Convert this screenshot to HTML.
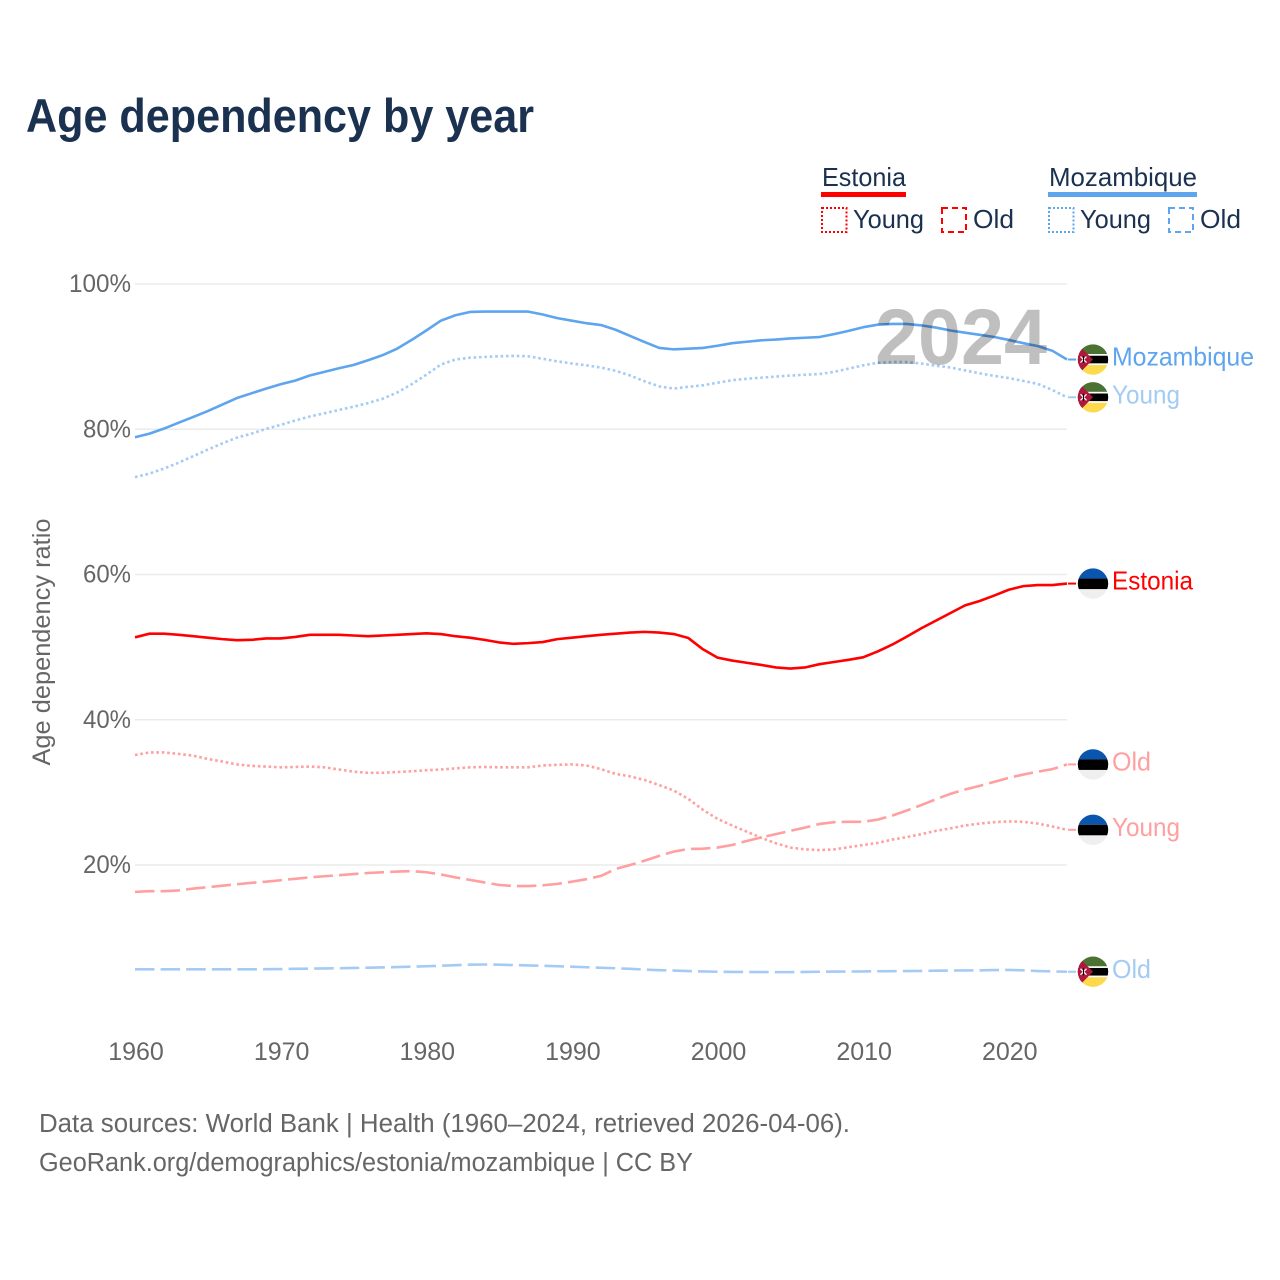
<!DOCTYPE html>
<html lang="en">
<head>
<meta charset="utf-8">
<title>Age dependency by year</title>
<style>
html,body{margin:0;padding:0;background:#fff;width:1280px;height:1280px;overflow:hidden}
svg{display:block;font-family:"Liberation Sans",sans-serif}
</style>
</head>
<body>
<svg id="chart" xmlns="http://www.w3.org/2000/svg" width="1280" height="1280" viewBox="0 0 1280 1280">
  <defs>
    <clipPath id="flag-clip"><circle cx="0" cy="0" r="15.2"/></clipPath>
    <g id="flag-ee" clip-path="url(#flag-clip)">
      <rect x="-16" y="-16" width="32" height="32" fill="#efefef"/>
      <rect x="-16" y="-16" width="32" height="11" fill="#0a55ad"/>
      <rect x="-16" y="-5" width="32" height="10.5" fill="#000"/>
    </g>
    <g id="flag-mz" clip-path="url(#flag-clip)">
      <rect x="-16" y="-16" width="32" height="32" fill="#fff"/>
      <rect x="-16" y="-16" width="32" height="10.5" fill="#4b7232"/>
      <rect x="-16" y="-3.8" width="32" height="7.6" fill="#000"/>
      <rect x="-16" y="5.5" width="32" height="10.5" fill="#fdd94e"/>
      <path d="M-16-16L0 0L-16 16Z" fill="#b0173c"/>
      <path d="M-12.5-3L-6.5 3M-6.5-3L-12.5 3" stroke="#fff" stroke-width="1.3"/>
      <path d="M-9.5-3.5V3.5" stroke="#000" stroke-width="1.1"/>
    </g>
  </defs>

  <text x="26" y="132" font-size="47" font-weight="700" fill="#1a3150" textLength="508" lengthAdjust="spacingAndGlyphs">Age dependency by year</text>

  <g>
    <text x="822" y="186" font-size="26" fill="#1a3150" textLength="84" lengthAdjust="spacingAndGlyphs">Estonia</text>
    <rect x="821" y="192" width="85" height="5" fill="#ff0000"/>
    <rect x="822" y="208" width="24.5" height="24" fill="none" stroke="#ff0000" stroke-width="2" stroke-dasharray="2 2"/>
    <text x="853" y="228" font-size="26" fill="#1a3150" textLength="71" lengthAdjust="spacingAndGlyphs">Young</text>
    <rect x="942" y="208" width="24" height="24" fill="none" stroke="#ff0000" stroke-width="2" stroke-dasharray="6 4"/>
    <text x="973" y="228" font-size="26" fill="#1a3150" textLength="41" lengthAdjust="spacingAndGlyphs">Old</text>
    <text x="1049" y="186" font-size="26" fill="#1a3150" textLength="148" lengthAdjust="spacingAndGlyphs">Mozambique</text>
    <rect x="1048" y="192" width="149" height="5" fill="#5ea5ee"/>
    <rect x="1049" y="208" width="24.5" height="24" fill="none" stroke="#5ea5ee" stroke-width="2" stroke-dasharray="2 2"/>
    <text x="1080" y="228" font-size="26" fill="#1a3150" textLength="71" lengthAdjust="spacingAndGlyphs">Young</text>
    <rect x="1169" y="208" width="24" height="24" fill="none" stroke="#5ea5ee" stroke-width="2" stroke-dasharray="6 4"/>
    <text x="1200" y="228" font-size="26" fill="#1a3150" textLength="41" lengthAdjust="spacingAndGlyphs">Old</text>
  </g>

  <g id="grid"></g>
  <g id="y-ticks"></g>
  <g id="x-ticks"></g>
  <text transform="translate(50,642) rotate(-90)" text-anchor="middle" font-size="25" fill="#666" textLength="247" lengthAdjust="spacingAndGlyphs">Age dependency ratio</text>

  <g id="series"></g>
  <text x="875" y="364" font-size="79" font-weight="700" fill="#000" fill-opacity="0.25" textLength="172" lengthAdjust="spacingAndGlyphs">2024</text>
  <g id="ends"></g>

  <text x="39" y="1132" font-size="25.5" fill="#666" textLength="811" lengthAdjust="spacingAndGlyphs">Data sources: World Bank | Health (1960–2024, retrieved 2026-04-06).</text>
  <text x="39" y="1171" font-size="25.5" fill="#666" textLength="654" lengthAdjust="spacingAndGlyphs">GeoRank.org/demographics/estonia/mozambique | CC BY</text>
</svg>
<script>
const years = [1960,1961,1962,1963,1964,1965,1966,1967,1968,1969,1970,1971,1972,1973,1974,1975,1976,1977,1978,1979,1980,1981,1982,1983,1984,1985,1986,1987,1988,1989,1990,1991,1992,1993,1994,1995,1996,1997,1998,1999,2000,2001,2002,2003,2004,2005,2006,2007,2008,2009,2010,2011,2012,2013,2014,2015,2016,2017,2018,2019,2020,2021,2022,2023,2024];
const xTickLabels = [1960,1970,1980,1990,2000,2010,2020];
const yTickValues = [20,40,60,80,100];
const mozambiqueTotal = [78.9,79.4,80.1,80.9,81.7,82.5,83.4,84.3,84.95,85.6,86.2,86.7,87.4,87.9,88.4,88.85,89.5,90.2,91.1,92.3,93.6,94.95,95.7,96.15,96.2,96.2,96.2,96.2,95.8,95.3,94.95,94.6,94.35,93.7,92.85,92.0,91.2,91.0,91.1,91.2,91.5,91.85,92.05,92.25,92.35,92.5,92.6,92.7,93.1,93.55,94.05,94.4,94.5,94.5,94.3,94.0,93.6,93.3,93.0,92.7,92.3,91.85,91.45,90.8,89.6];
const mozambiqueYoung = [73.4,73.9,74.6,75.4,76.3,77.2,78.05,78.85,79.4,80.05,80.6,81.2,81.75,82.2,82.65,83.1,83.6,84.2,85.05,86.2,87.5,88.9,89.6,89.85,89.95,90.05,90.1,90.05,89.7,89.35,89.05,88.8,88.5,88.05,87.4,86.6,85.9,85.6,85.85,86.05,86.4,86.75,86.95,87.1,87.25,87.4,87.5,87.6,87.9,88.35,88.8,89.15,89.25,89.25,89.05,88.75,88.5,88.1,87.7,87.35,87.05,86.65,86.25,85.4,84.4];
const mozambiqueOld = [5.63,5.63,5.63,5.63,5.63,5.63,5.63,5.63,5.63,5.65,5.67,5.7,5.73,5.76,5.78,5.82,5.86,5.9,5.95,6.0,6.06,6.13,6.2,6.28,6.3,6.28,6.22,6.17,6.12,6.06,6.0,5.92,5.85,5.78,5.7,5.6,5.52,5.47,5.4,5.35,5.3,5.28,5.27,5.26,5.25,5.25,5.27,5.3,5.32,5.33,5.35,5.37,5.38,5.4,5.42,5.45,5.47,5.48,5.5,5.53,5.55,5.5,5.4,5.35,5.3];
const estoniaTotal = [51.35,51.85,51.85,51.7,51.5,51.3,51.1,50.95,51.0,51.2,51.2,51.4,51.7,51.7,51.7,51.6,51.5,51.6,51.7,51.8,51.9,51.8,51.5,51.3,51.0,50.65,50.45,50.55,50.7,51.1,51.3,51.5,51.7,51.85,52.0,52.1,52.0,51.8,51.25,49.7,48.55,48.15,47.85,47.55,47.2,47.05,47.2,47.65,47.95,48.25,48.6,49.4,50.35,51.45,52.6,53.65,54.7,55.75,56.35,57.1,57.9,58.4,58.55,58.55,58.75];
const estoniaYoung = [35.15,35.5,35.5,35.3,35.05,34.6,34.25,33.85,33.65,33.55,33.45,33.5,33.55,33.45,33.15,32.85,32.7,32.7,32.8,32.9,33.05,33.15,33.3,33.45,33.5,33.45,33.45,33.45,33.7,33.8,33.85,33.7,33.2,32.55,32.2,31.7,31.0,30.25,29.1,27.6,26.35,25.45,24.6,23.75,23.0,22.4,22.15,22.05,22.15,22.45,22.75,23.05,23.5,23.85,24.25,24.7,25.05,25.45,25.7,25.9,26.0,25.95,25.7,25.3,24.85];
const estoniaOld = [16.3,16.4,16.4,16.5,16.75,16.95,17.15,17.35,17.55,17.7,17.9,18.1,18.3,18.45,18.6,18.75,18.9,19.0,19.1,19.15,19.0,18.7,18.3,17.95,17.6,17.25,17.1,17.1,17.2,17.4,17.7,18.05,18.5,19.45,20.0,20.6,21.25,21.85,22.2,22.25,22.4,22.75,23.3,23.8,24.25,24.7,25.15,25.65,25.9,25.95,25.95,26.25,26.8,27.5,28.25,29.05,29.8,30.4,30.9,31.45,32.0,32.45,32.85,33.2,33.85];

const NS = 'http://www.w3.org/2000/svg';
const xScale = yr => 135 + (yr - 1960) * (932 / 64);
const yScale = v => 284 + (100 - v) * 7.2625;

const seriesList = [
  {key:'estonia-old', label:'Old', values:estoniaOld, color:'#ff9f9f', dash:'19.5 6.1', flag:'flag-ee', width:39},
  {key:'estonia-young', label:'Young', values:estoniaYoung, color:'#ff9f9f', dash:'2.6 2.8', flag:'flag-ee', width:68},
  {key:'estonia', label:'Estonia', values:estoniaTotal, color:'#ff0000', dash:null, flag:'flag-ee', width:81},
  {key:'mozambique-old', label:'Old', values:mozambiqueOld, color:'#a3cbf4', dash:'19.5 6.1', flag:'flag-mz', width:39},
  {key:'mozambique-young', label:'Young', values:mozambiqueYoung, color:'#a3cbf4', dash:'2.6 2.8', flag:'flag-mz', width:68},
  {key:'mozambique', label:'Mozambique', values:mozambiqueTotal, color:'#5ea5ee', dash:null, flag:'flag-mz', width:142}
];

const gridG = document.getElementById('grid');
const yG = document.getElementById('y-ticks');
yTickValues.forEach(v => {
  const line = document.createElementNS(NS, 'line');
  
  
  line.setAttribute('x1', 135);
  line.setAttribute('x2', 1067);
  line.setAttribute('y1', yScale(v));
  line.setAttribute('y2', yScale(v));
  line.setAttribute('stroke', '#ebebeb');
  line.setAttribute('stroke-width', '1.4');
  gridG.appendChild(line);
  const t = document.createElementNS(NS, 'text');
  
  
  t.setAttribute('x', 131);
  t.setAttribute('y', yScale(v) + 8);
  t.setAttribute('text-anchor', 'end');
  t.setAttribute('font-size', '25');
  t.setAttribute('fill', '#666');
  t.setAttribute('textLength', String(v) === '100' ? 62 : 48);
  t.setAttribute('lengthAdjust', 'spacingAndGlyphs');
  t.textContent = v + '%';
  yG.appendChild(t);
});

const xG = document.getElementById('x-ticks');
xTickLabels.forEach(yr => {
  const t = document.createElementNS(NS, 'text');
  
  
  t.setAttribute('x', xScale(yr) + 1);
  t.setAttribute('y', 1060);
  t.setAttribute('text-anchor', 'middle');
  t.setAttribute('font-size', '25');
  t.setAttribute('fill', '#666');
  t.textContent = yr;
  xG.appendChild(t);
});

const seriesG = document.getElementById('series');
const endsG = document.getElementById('ends');
seriesList.forEach(s => {
  const d = s.values.map((v, i) => (i ? 'L' : 'M') + xScale(years[i]).toFixed(2) + ' ' + yScale(v).toFixed(2)).join('');
  const path = document.createElementNS(NS, 'path');
  
  
  path.setAttribute('d', d);
  path.setAttribute('fill', 'none');
  path.setAttribute('stroke', s.color);
  path.setAttribute('stroke-width', '2.6');
  path.setAttribute('stroke-linejoin', 'round');
  if (s.dash) path.setAttribute('stroke-dasharray', s.dash);
  seriesG.appendChild(path);

  const last = s.values[s.values.length - 1];
  const ey = yScale(last);
  const conn = document.createElementNS(NS, 'line');
  
  
  conn.setAttribute('x1', 1068);
  conn.setAttribute('x2', 1076);
  conn.setAttribute('y1', ey);
  conn.setAttribute('y2', ey);
  conn.setAttribute('stroke', s.color);
  conn.setAttribute('stroke-width', '2');
  endsG.appendChild(conn);

  const flag = document.createElementNS(NS, 'use');
  
  
  flag.setAttribute('href', '#' + s.flag);
  flag.setAttribute('transform', 'translate(1093,' + ey + ')');
  endsG.appendChild(flag);

  const label = document.createElementNS(NS, 'text');
  
  
  label.setAttribute('x', 1112);
  label.setAttribute('y', ey + 6);
  label.setAttribute('font-size', '26');
  label.setAttribute('fill', s.color);
  label.setAttribute('textLength', s.width);
  label.setAttribute('lengthAdjust', 'spacingAndGlyphs');
  label.textContent = s.label;
  endsG.appendChild(label);
});
</script>
</body>
</html>
